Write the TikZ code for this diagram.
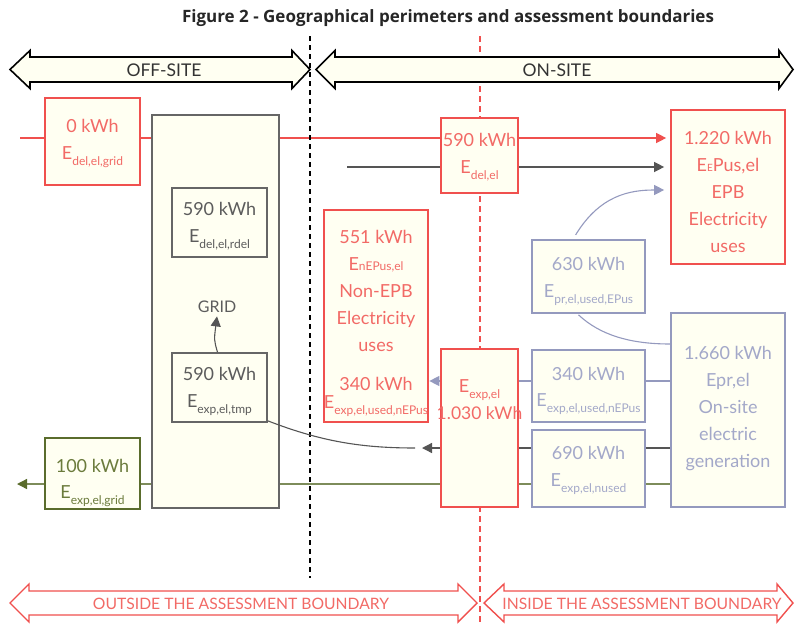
\documentclass[tikz,border=0pt]{standalone}
\usepackage{fontspec}
\setmainfont{Lato}
\newfontfamily\titlefont{Open Sans}
\usetikzlibrary{arrows.meta,backgrounds,calc}
\definecolor{cream}{HTML}{FFFFF2}
\definecolor{redc}{HTML}{F0504E}
\definecolor{redt}{HTML}{F26A66}
\definecolor{grayc}{HTML}{666666}
\definecolor{grayt}{HTML}{5C5C5C}
\definecolor{darkl}{HTML}{555555}
\definecolor{bluec}{HTML}{9499BE}
\definecolor{bluet}{HTML}{A3A8C9}
\definecolor{olivec}{HTML}{5A6C2C}
\definecolor{olivet}{HTML}{6B7B3C}
\definecolor{olivel}{HTML}{7D8C5A}
\newcommand\sub[1]{\raisebox{-6pt}{\fontsize{12}{12}\selectfont #1}}
\newcommand\fitline[1]{\makebox[60pt][c]{#1}}
\begin{document}
\begin{tikzpicture}[x=1pt,y=-1pt,
  box/.style={draw, line width=1.7pt, fill=cream, inner sep=0pt, text depth=0pt,
    align=center, font=\fontsize{18}{27.5}\selectfont},
  redbox/.style={box, draw=redc, text=redt},
  graybox/.style={box, draw=grayc, text=grayt},
  bluebox/.style={box, draw=bluec, text=bluet},
  olivebox/.style={box, draw=olivec, text=olivet},
  tip/.style={-{Triangle[length=10pt,width=10pt]}},
  conn/.style={line width=1.3pt},
  bigarrow/.style={line width=1.6pt, draw=black, fill=cream, line join=miter},
  redarrow/.style={line width=1.4pt, draw=redc, fill=white, line join=miter},
  toplabel/.style={text=black!80, font=\fontsize{17.5}{19}\selectfont},
  botlabel/.style={text=redt, font=\fontsize{15.7}{17}\selectfont},
]
\useasboundingbox (0,0) rectangle (795,624);

% title
\node[font=\titlefont\bfseries\fontsize{17}{19}\selectfont, text=black!85] (title) at (448,18)
  {Figure 2 - Geographical perimeters and assessment boundaries};

% perimeter arrows
\draw[bigarrow] (10,69.5) -- (30,50.5) -- (30,57) -- (292,57) -- (292,50.5) -- (310,69.5)
  -- (292,88.5) -- (292,82) -- (30,82) -- (30,88.5) -- cycle;
\node[toplabel] (offsite) at (164,70) {OFF-SITE};
\draw[bigarrow] (316,69.5) -- (335,50.5) -- (335,57) -- (779,57) -- (779,50.5) -- (793,69.5)
  -- (779,88.5) -- (779,82) -- (335,82) -- (335,88.5) -- cycle;
\node[toplabel] (onsite) at (557,70) {ON-SITE};

\draw[redarrow] (10,603) -- (29,584) -- (29,591) -- (458,591) -- (458,584) -- (477,603)
  -- (458,622) -- (458,615) -- (29,615) -- (29,622) -- cycle;
\node[botlabel] (outside) at (241,604) {OUTSIDE THE ASSESSMENT BOUNDARY};
\draw[redarrow] (484,603) -- (504,584) -- (504,591) -- (777,591) -- (777,584) -- (793,603)
  -- (777,622) -- (777,615) -- (504,615) -- (504,622) -- cycle;
\node[botlabel] (inside) at (642,604) {INSIDE THE ASSESSMENT BOUNDARY};

% boxes
\node[redbox, minimum width=95pt, minimum height=87pt, text height=36pt] (edelgrid) at (92.5,141.5)
  {0 kWh\\E\sub{del,el,grid}};
\node[graybox, minimum width=127pt, minimum height=393pt] (grid) at (215.5,311.5) {};
\node[graybox, minimum width=95pt, minimum height=69pt, text height=40pt] (rdel) at (219.5,222.5)
  {590 kWh\\E\sub{del,el,rdel}};
\node[text=grayt, font=\fontsize{16}{18}\selectfont] (gridlabel) at (217,307) {GRID};
\node[graybox, minimum width=95pt, minimum height=69pt, text height=40pt] (tmp) at (219.5,387.5)
  {590 kWh\\E\sub{exp,el,tmp}};
\node[olivebox, minimum width=95pt, minimum height=71pt, text height=49pt] (expgrid) at (92.5,473.5)
  {100 kWh\\[-1.5pt]E\sub{exp,el,grid}};
\node[redbox, minimum width=104pt, minimum height=212pt, text height=184pt, font=\fontsize{18}{27}\selectfont] (nepus) at (376,316)
  {551 kWh\\E{\fontsize{12}{12}\selectfont nEPus,el}\\Non-EPB\\Electricity\\uses\\[12pt]340 kWh\\[-9pt]\fitline{E\sub{exp,el,used,nEPus}}};
\node[redbox, minimum width=77pt, minimum height=75pt, text height=35pt] (edel) at (479.5,155.5)
  {590 kWh\\[-0.5pt]E\sub{del,el}};
\node[redbox, minimum width=77pt, minimum height=158pt, text height=0pt, text depth=18pt] (exp) at (479.5,428)
  {\fitline{E\sub{exp,el}}\\[-0.5pt]\fitline{\fontsize{17.5}{18}\selectfont 1.030 kWh}};
\node[redbox, minimum width=114pt, minimum height=154pt, text height=130pt, font=\fontsize{18}{27}\selectfont] (epus) at (728,187)
  {1.220 kWh\\E{\fontsize{10}{10}\selectfont E}Pus,el\\EPB\\Electricity\\uses};
\node[bluebox, minimum width=113pt, minimum height=73pt, text height=41pt] (pr) at (588.5,276.5)
  {630 kWh\\[-0.5pt]E\sub{pr,el,used,EPus}};
\node[bluebox, minimum width=113pt, minimum height=72pt, text height=40pt] (usednepus) at (588.5,386)
  {340 kWh\\[-1.5pt]E\sub{exp,el,used,nEPus}};
\node[bluebox, minimum width=113pt, minimum height=77pt, text height=36pt] (nused) at (588.5,468.5)
  {690 kWh\\E\sub{exp,el,nused}};
\node[bluebox, minimum width=114pt, minimum height=194pt, text height=114pt, font=\fontsize{18}{27}\selectfont] (gen) at (728,410)
  {1.660 kWh\\Epr,el\\On-site\\electric\\generation};

% free ends
\coordinate (rstart) at (20,138);
\coordinate (dstart) at (347,167);
\coordinate (yblue) at (0,381);
\coordinate (ygray) at (0,448);
\coordinate (garrow) at (422,448);
\coordinate (gcurve) at (415,448);
\coordinate (ygreen) at (0,484);
\coordinate (gend) at (17,484);

\begin{scope}[on background layer]
  \draw[conn, redc, tip, shorten >=4pt] (rstart) -- (rstart -| epus.west);
  \draw[conn, darkl, tip, shorten >=6pt] (dstart) -- (dstart -| epus.west);
  \draw[conn, bluec, tip, shorten >=0.5pt] (yblue -| gen.west) -- (yblue -| nepus.east);
  \draw[conn, darkl, tip] (ygray -| gen.west) -- (garrow);
  \draw[conn, olivel, -{Triangle[length=10pt,width=10pt,color=olivec]}] (ygreen -| gen.west) -- (gend);
  % boundaries
  \draw[line width=2.6pt, black, dash pattern=on 5pt off 4pt] (310,36) -- (310,578);
  \draw[line width=2.2pt, redc, dash pattern=on 6pt off 4pt] (480,36) -- (480,622);
\end{scope}

% curves
\draw[darkl, line width=1.1pt] ($(tmp.south east)+(0,-2)$)
  .. controls (320,441) and (360,448) .. (gcurve);
\draw[darkl, tip, line width=1.1pt] ($(tmp.north)+(-2,0)$) .. controls (214,340) .. (gridlabel.south);
\draw[bluec, tip, line width=1.1pt, shorten <=5pt, shorten >=6pt] (pr.north -| 573,0)
  .. controls (600,195) and (630,190) .. (epus.west |- 0,190);
\draw[bluec, line width=1.1pt] ($(pr.south)+(-10,1)$) .. controls (600,335) and (630,344) .. (gen.west |- 0,344);
\end{tikzpicture}
\end{document}
